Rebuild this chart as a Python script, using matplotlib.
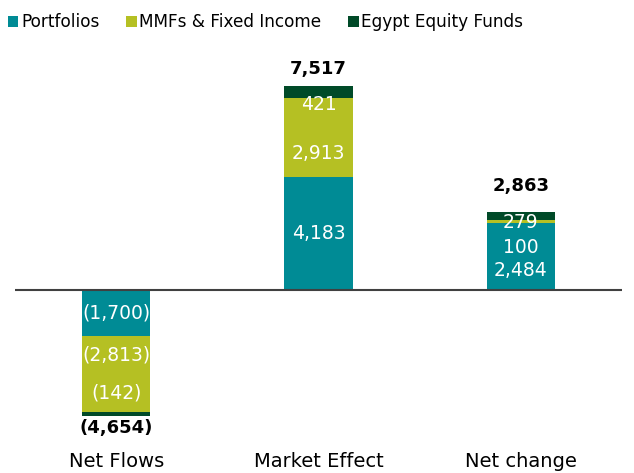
import numpy as np
from matplotlib import pyplot as plt

categories = ["Net Flows", "Market Effect", "Net change"]
series = ["Portfolios", "MMFs & Fixed Income", "Egypt Equity Funds"]
portfolios = [-1700, 4183, 2484]
mmfs = [-2813, 2913, 100]
equity = [-142, 421, 279]
totals = [-4654, 7517, 2863]

colors = ["#008b95", "#b5c023", "#004a28"]
# label nudges in pixels (labels in the original are hand-placed)
nudge = [[0, 19, 21], [0, -16, -13], [-14, -26, -6]]
total_nudge = [-12, 17, 26]

fig = plt.figure(figsize=(6.34, 4.73), dpi=100)
ax = fig.add_axes([15 / 634, 1 - 445 / 473, 607 / 634, 400 / 473])

x = np.arange(len(categories))
width = 0.337
bottom = np.zeros(len(categories))
for s, (name, vals) in enumerate(zip(series, [portfolios, mmfs, equity])):
    vals = np.array(vals, dtype=float)
    ax.bar(x, vals, width, bottom=bottom, color=colors[s], label=name)
    for i, v in enumerate(vals):
        txt = f"{abs(v):,.0f}"
        if v < 0:
            txt = "(" + txt + ")"
        ax.annotate(txt, (x[i], bottom[i] + v / 2), xytext=(0, nudge[i][s]),
                    textcoords="offset pixels", ha="center", va="center",
                    color="white", fontsize=13.5)
    bottom += vals

for i, t in enumerate(totals):
    txt = f"{abs(t):,.0f}"
    if t < 0:
        txt = "(" + txt + ")"
    ax.annotate(txt, (x[i], t), xytext=(0, total_nudge[i]), textcoords="offset pixels",
                ha="center", va="center", fontsize=13, fontweight="bold", color="black")

ax.axhline(0, color="#404040", linewidth=1.5)
ax.set_xlim(-0.5, 2.5)
ax.set_ylim(-5720, 9040)
ax.set_xticks(x)
ax.set_xticklabels(categories, fontsize=14)
ax.tick_params(axis="x", length=0, pad=5)
ax.set_yticks([])
for sp in ax.spines.values():
    sp.set_visible(False)

fig.legend(loc="upper left", bbox_to_anchor=(-0.003, 0.993), ncol=3, frameon=False,
           fontsize=12.2, handlelength=0.6, handleheight=0.6, handletextpad=0.15,
           columnspacing=1.6, borderaxespad=0.2)

fig.savefig("out.png", dpi=100)
